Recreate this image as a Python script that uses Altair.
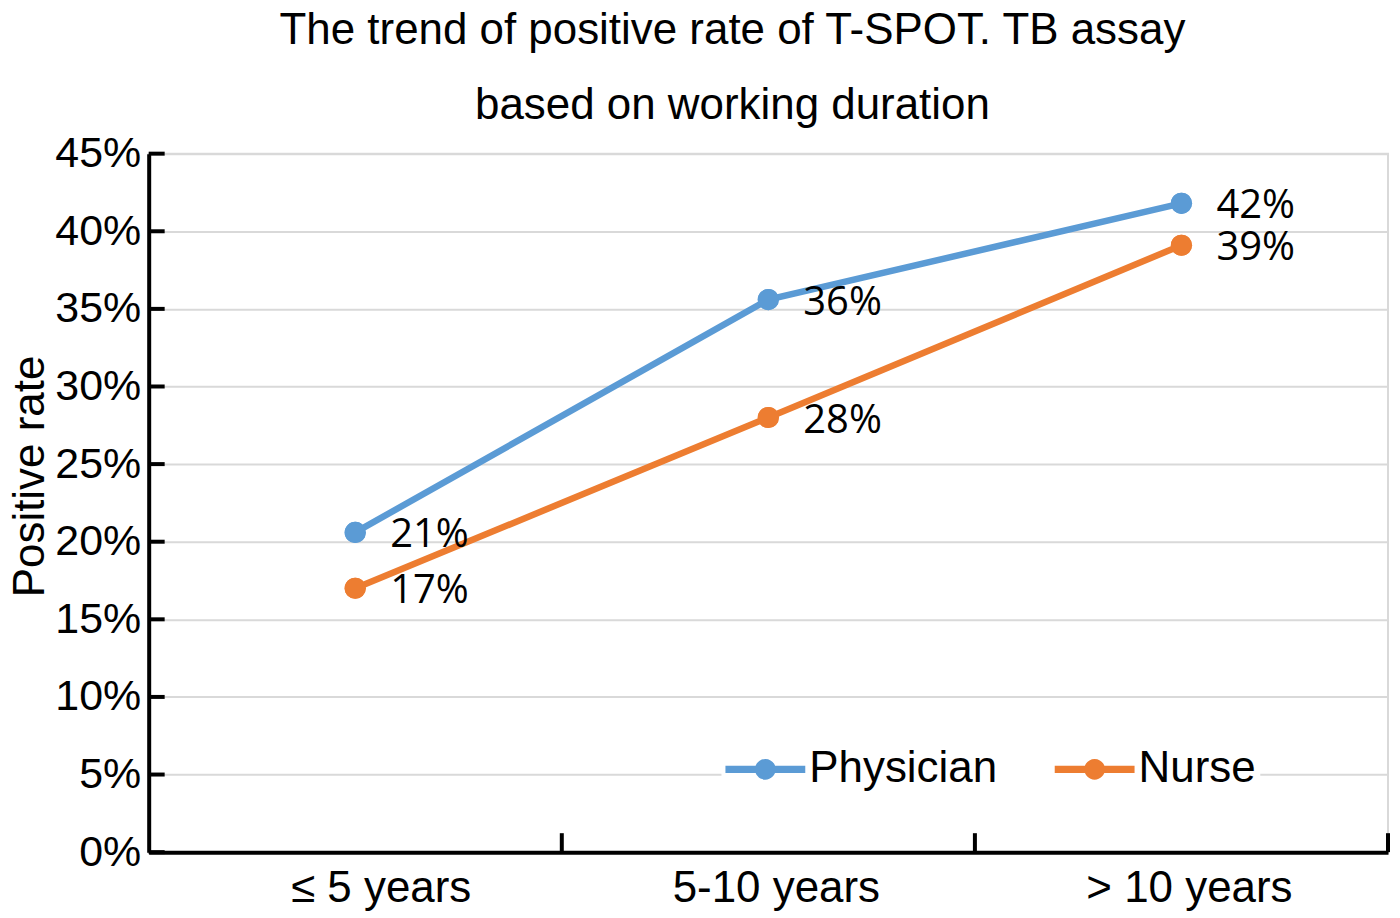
import altair as alt
import pandas as pd

categories = ["≤ 5 years", "5-10 years", "> 10 years"]
series = ["Physician", "Nurse"]
physician = [0.206, 0.356, 0.418]
nurse = [0.170, 0.280, 0.391]
colors = ["#5B9BD5", "#ED7D31"]
y_ticks = [0, 0.05, 0.10, 0.15, 0.20, 0.25, 0.30, 0.35, 0.40, 0.45]

rows = []
for s, vals in zip(series, [physician, nurse]):
    for c, v in zip(categories, vals):
        rows.append({"cat": c, "value": v, "series": s})
df = pd.DataFrame(rows)
tick_df = pd.DataFrame({"value": y_ticks})
xtick_df = pd.DataFrame({"cat": categories})

W, H = 1242, 700
FONT = "Liberation Sans"

xscale = alt.Scale(domain=categories, type="band", paddingInner=0, paddingOuter=0)
yscale = alt.Scale(domain=[0, 0.45], nice=False)

x_axis = alt.Axis(title=None, ticks=False, grid=False, domainColor="black",
                  domainWidth=4, labelFont=FONT, labelFontSize=44, labelLimit=500,
                  labelColor="black", labelPadding=14, labelAngle=0,
                  labelOffset={"condition": {"test": "datum.index === 0", "value": 26},
                               "value": 8})
x_enc = alt.X("cat:N", scale=xscale, axis=x_axis)
y_enc = alt.Y("value:Q", scale=yscale,
              axis=alt.Axis(values=y_ticks, format=".0%", title="Positive rate",
                            ticks=False, domainColor="black", domainWidth=4,
                            labelFont=FONT, labelFontSize=43, labelColor="black",
                            labelPadding=8, titleFont=FONT, titleFontSize=44,
                            titleFontWeight="normal", titleColor="black",
                            titlePadding=2, titleY=323, grid=True,
                            gridColor="#d9d9d9", gridWidth=2))

legend_path = ("M-1,-0.09L1,-0.09L1,0.09L-1,0.09Z "
               "M0.26,0A0.26,0.26,0,1,1,-0.26,0A0.26,0.26,0,1,1,0.26,0Z")

legend = alt.Legend(title=None, orient="none", legendX=574, legendY=573,
                    direction="horizontal", symbolType=legend_path,
                    symbolSize=6400, symbolStrokeWidth=0, labelFont=FONT,
                    labelFontSize=44, labelColor="black", labelOffset=4,
                    labelLimit=400, columnPadding=57, fillColor="white", padding=4)
color_enc = alt.Color("series:N", scale=alt.Scale(domain=series, range=colors),
                      legend=legend)
stroke_enc = alt.Stroke("series:N", scale=alt.Scale(domain=series, range=colors),
                        legend=None)

base = alt.Chart(df)

points_under = base.mark_point(filled=True, size=450, opacity=1).encode(
    x=x_enc, y=y_enc, color=color_enc)
lines = base.mark_line(strokeWidth=6.5).encode(x=x_enc, y=y_enc, stroke=stroke_enc,
                                                detail="series:N")
points = base.mark_point(filled=True, size=450, opacity=1).encode(
    x=x_enc, y=y_enc, color=color_enc)
labels = base.mark_text(align="left", baseline="middle", dx=35, dy=3,
                        font="Open Sans", fontSize=40, color="black").encode(
    x=x_enc, y=y_enc, text=alt.Text("value:Q", format=".0%"))

y_ticks_layer = alt.Chart(tick_df).mark_rule(color="black", strokeWidth=4).encode(
    y=y_enc, x=alt.value(0), x2=alt.value(16))

x_ticks_layer = alt.Chart(xtick_df).mark_rule(color="black", strokeWidth=4).encode(
    x=alt.X("cat:N", scale=xscale, bandPosition=1, axis=x_axis),
    y=alt.value(H - 19), y2=alt.value(H))

chart = alt.layer(points_under, lines, points, labels, y_ticks_layer,
                  x_ticks_layer).properties(
    width=W, height=H,
    padding={"left": 0, "top": 0, "right": 2, "bottom": 0},
    title=alt.TitleParams(
        text=["The trend of positive rate of T-SPOT. TB assay",
              "based on working duration"],
        font=FONT, fontSize=44, fontWeight="normal", color="black",
        anchor="middle", lineHeight=75, offset=5, dx=-36),
).configure_view(stroke="#d9d9d9", strokeWidth=2)

chart.save("out.html", embed_options={"renderer": "svg", "actions": False})
